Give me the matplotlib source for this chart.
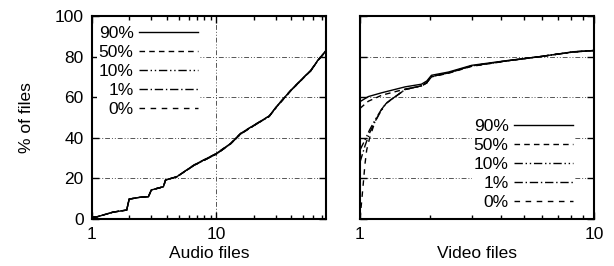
import matplotlib
matplotlib.use("Agg")
import matplotlib.pyplot as plt
from matplotlib.ticker import FixedLocator, NullFormatter

plt.rcParams['font.family'] = ['Liberation Sans', 'DejaVu Sans']
plt.rcParams['font.size'] = 12.5

labels = ["90%", "50%", "10%", "1%", "0%"]

# audio: cumulative % of files (log x)
audio_x = [1.0, 1.1, 1.48, 1.9, 1.99, 2.43, 2.84, 3.0, 3.75, 3.9, 4.8, 6.6,
           10, 13, 15.6, 20, 26.5, 31, 39.6, 47.7, 57.5, 65, 76]
audio_90 = [0.8, 1.1, 3.4, 4.4, 9.8, 10.7, 11.0, 14.3, 15.9, 19.2, 20.8, 26.6,
            32.3, 37.2, 42.1, 46.2, 50.7, 56.0, 63.4, 68.4, 73.3, 78.0, 83.0]
audio_50 = [0.8, 1.1, 3.4, 4.4, 9.8, 10.7, 11.0, 14.3, 15.9, 19.2, 20.8, 26.4,
            32.0, 37.0, 41.8, 46.0, 50.5, 55.8, 63.2, 68.2, 73.1, 77.8, 82.8]
audio_10 = audio_50
audio_1 = audio_50
audio_0 = audio_90

# video
video_x_hi = [1.0, 1.085, 1.24, 1.56, 1.83, 1.93, 2.02, 2.39, 3.0, 4.23, 5.88, 8.17, 10]
video_90 = [57.8, 60.3, 62.2, 65.1, 66.4, 68.0, 70.8, 72.4, 75.7, 78.0, 80.0, 82.4, 83.0]
video_50 = [54.5, 58.0, 61.0, 64.0, 65.5, 67.0, 70.0, 71.8, 75.2, 77.8, 80.0, 82.3, 83.0]

video_x_lo = [1.0, 1.05, 1.1, 1.16, 1.22, 1.29, 1.56, 1.83, 1.93, 2.02, 2.39, 3.0,
              4.23, 5.88, 8.17, 10]
video_10 = [34.0, 38.9, 44.0, 48.8, 53.0, 57.0, 63.8, 65.6, 67.2, 70.2, 72.0, 75.4,
            77.9, 80.0, 82.3, 83.0]
video_1 = [28.0, 36.0, 42.5, 48.0, 52.5, 56.8, 63.8, 65.6, 67.2, 70.2, 72.0, 75.4,
           77.9, 80.0, 82.3, 83.0]
video_x_0 = [1.0, 1.015, 1.033, 1.05, 1.068, 1.103, 1.16, 1.22, 1.29, 1.56, 1.83,
             1.93, 2.02, 2.39, 3.0, 4.23, 5.88, 8.17, 10]
video_0 = [0.0, 8.0, 17.6, 27.0, 34.0, 40.5, 48.0, 53.0, 57.0, 63.8, 65.6, 67.2,
           70.2, 72.0, 75.4, 77.9, 80.0, 82.3, 83.0]

styles = [
    dict(ls="-"),
    dict(ls=(0, (4, 3))),
    dict(ls=(0, (6, 2, 1, 2, 1, 2))),
    dict(ls=(0, (6, 2, 1, 2))),
    dict(ls=(0, (4, 4))),
]

fig = plt.figure(figsize=(6.14, 2.66), dpi=100)
ax1 = fig.add_axes([92 / 614, 47 / 266, 234 / 614, 203 / 266])
ax2 = fig.add_axes([360 / 614, 47 / 266, 234 / 614, 203 / 266])

grid_kw = dict(color="#555555", lw=0.7, ls=(0, (5, 2, 1, 2, 1, 2)), zorder=1)


def setup(ax, xmax, xlabel, minors, ylabels):
    ax.set_xscale("log")
    ax.set_xlim(1, xmax)
    ax.set_ylim(0, 100)
    ax.xaxis.set_major_locator(FixedLocator([1, 10]))
    ax.xaxis.set_minor_locator(FixedLocator(minors))
    ax.xaxis.set_minor_formatter(NullFormatter())
    ax.set_xticklabels(["1", "10"])
    ax.set_yticks([0, 20, 40, 60, 80, 100])
    if not ylabels:
        ax.set_yticklabels([])
    ax.tick_params(which="both", direction="in", top=True, right=True, width=1)
    ax.tick_params(axis="y", pad=6)
    ax.tick_params(axis="x", pad=6)
    ax.tick_params(which="major", length=5)
    ax.tick_params(which="minor", length=3)
    for s in ax.spines.values():
        s.set_linewidth(1.5)
    for v in [20, 40, 60, 80]:
        ax.axhline(v, **grid_kw)
    ax.set_xlabel(xlabel, labelpad=3)


setup(ax1, 76, "Audio files", [2, 3, 4, 5, 6, 7, 8, 9, 20, 30, 40, 50, 60, 70], True)
ax1.axvline(10, **grid_kw)
ax1.set_ylabel("% of files", labelpad=15)
setup(ax2, 10, "Video files", [2, 3, 4, 5, 6, 7, 8, 9], False)

audio = [audio_90, audio_50, audio_10, audio_1, audio_0]
for lab, ys, st in zip(labels, audio, styles):
    ax1.plot(audio_x, ys, color="black", lw=1, label=lab, zorder=3, **st)

video = [(video_x_hi, video_90), (video_x_hi, video_50), (video_x_lo, video_10),
         (video_x_lo, video_1), (video_x_0, video_0)]
for lab, (xs, ys), st in zip(labels, video, styles):
    ax2.plot(xs, ys, color="black", lw=1, label=lab, zorder=3, **st)

leg_kw = dict(markerfirst=False, handlelength=3.4, handletextpad=0.3,
              labelspacing=0.23, borderpad=0.1, borderaxespad=0,
              frameon=True, fancybox=False, edgecolor="none", facecolor="white",
              framealpha=1, fontsize=12.5)
l1 = ax1.legend(loc="upper left", bbox_to_anchor=(97 / 614, 1 - 24 / 266),
                bbox_transform=fig.transFigure, **leg_kw)
l2 = ax2.legend(loc="upper left", bbox_to_anchor=(472 / 614, 1 - 117 / 266),
                bbox_transform=fig.transFigure, **leg_kw)
l1.set_zorder(2)
l2.set_zorder(2)

fig.savefig("out.png", dpi=100)
